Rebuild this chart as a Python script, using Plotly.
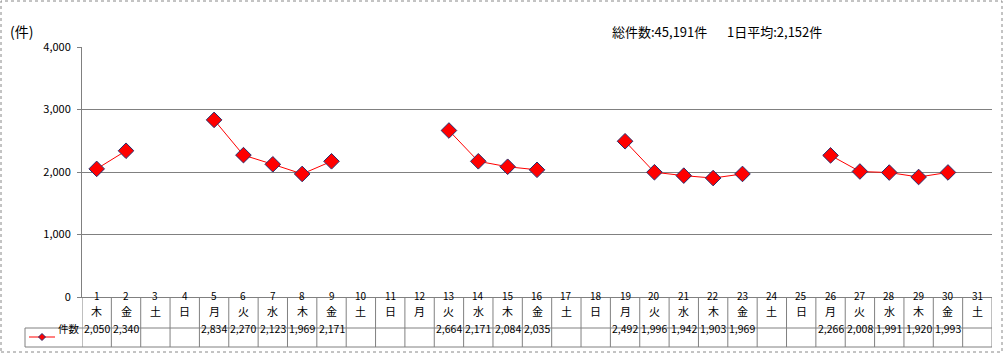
import plotly.graph_objects as go

days = list(range(1, 32))
weekdays = ["木", "金", "土", "日", "月", "火", "水", "木", "金", "土", "日", "月", "火", "水", "木", "金",
            "土", "日", "月", "火", "水", "木", "金", "土", "日", "月", "火", "水", "木", "金", "土"]
counts = [2050, 2340, None, None, 2834, 2270, 2123, 1969, 2171, None, None, None, 2664, 2171, 2084, 2035,
          None, None, 2492, 1996, 1942, 1903, 1969, None, None, 2266, 2008, 1991, 1920, 1993, None]
series_name = "件数"
unit_label = "(件)"
summary_total = "総件数:45,191件"
summary_avg = "1日平均:2,152件"

W, H = 1006, 355
L, R, T, B = 82, 992, 47, 297
pw, ph = R - L, B - T


def px(x):
    return (x - L) / pw


def py(y):
    return (B - y) / ph


FONT = "Noto Sans CJK JP"
GRID = "#808080"

fig = go.Figure()
fig.add_trace(go.Scatter(
    x=days, y=counts, mode="lines+markers", name=series_name,
    line=dict(color="#FF0000", width=1),
    marker=dict(symbol="diamond", size=12, color="#FF0000", line=dict(color="#26306E", width=1)),
    connectgaps=False, showlegend=False,
))

shapes = []
annotations = []
# table vertical lines
for i in range(0, 32):
    shapes.append(dict(type="line", xref="x", yref="paper", x0=i + 0.5, x1=i + 0.5,
                       y0=py(347), y1=py(297), line=dict(color=GRID, width=1)))
# table horizontal lines
for yy in (328, 347):
    shapes.append(dict(type="line", xref="paper", yref="paper", x0=px(25), x1=1,
                       y0=py(yy), y1=py(yy), line=dict(color=GRID, width=1)))
shapes.append(dict(type="line", xref="paper", yref="paper", x0=px(25), x1=px(25),
                   y0=py(347), y1=py(328), line=dict(color=GRID, width=1)))
# legend key
shapes.append(dict(type="line", xref="paper", yref="paper", x0=px(29), x1=px(55),
                   y0=py(337), y1=py(337), line=dict(color="#FF0000", width=1)))
cx, cy, r = 42, 337, 3.5
shapes.append(dict(type="path", xref="paper", yref="paper",
                   path=f"M {px(cx - r)} {py(cy)} L {px(cx)} {py(cy - r)} L {px(cx + r)} {py(cy)} L {px(cx)} {py(cy + r)} Z",
                   fillcolor="#FF0000", line=dict(color="#26306E", width=1)))
# outer border
shapes.append(dict(type="rect", xref="paper", yref="paper", x0=px(1), x1=px(1002),
                   y0=py(352), y1=py(1), line=dict(color="#888888", width=1, dash="dot")))

for d, wd, c in zip(days, weekdays, counts):
    annotations.append(dict(x=d, y=py(305), xref="x", yref="paper", text=str(d), showarrow=False,
                            font=dict(size=10, color="black", family=FONT)))
    annotations.append(dict(x=d, y=py(321), xref="x", yref="paper", text=wd, showarrow=False,
                            font=dict(size=11, color="black", family=FONT)))
    if c is not None:
        annotations.append(dict(x=d, y=py(337.5), xref="x", yref="paper", text=f"{c:,}", showarrow=False,
                                font=dict(size=10.5, color="black", family=FONT)))

annotations.append(dict(x=px(56), y=py(337.5), xref="paper", yref="paper", text=series_name, showarrow=False,
                        xanchor="left", font=dict(size=10.5, color="black", family=FONT)))
annotations.append(dict(x=px(8), y=py(19), xref="paper", yref="paper", text=unit_label, showarrow=False,
                        xanchor="left", font=dict(size=14, color="black", family=FONT)))
annotations.append(dict(x=px(610), y=py(20), xref="paper", yref="paper", text=summary_total, showarrow=False,
                        xanchor="left", font=dict(size=13, color="black", family=FONT)))
annotations.append(dict(x=px(725), y=py(20), xref="paper", yref="paper", text=summary_avg, showarrow=False,
                        xanchor="left", font=dict(size=13, color="black", family=FONT)))

fig.update_layout(
    width=W, height=H,
    margin=dict(l=L, r=W - R, t=T, b=H - B, pad=0),
    paper_bgcolor="white", plot_bgcolor="white",
    xaxis=dict(range=[0.5, 31.5], showticklabels=False, showgrid=False, zeroline=False,
               showline=True, linecolor=GRID, linewidth=1, ticks="", fixedrange=True),
    yaxis=dict(range=[0, 4000], tickvals=[0, 1000, 2000, 3000, 4000], tickformat=",",
               showgrid=True, gridcolor=GRID, gridwidth=1, zeroline=False,
               showline=True, linecolor=GRID, linewidth=1, ticks="outside", ticklen=4,
               tickcolor=GRID, tickfont=dict(size=11, color="black", family=FONT), ticklabelstandoff=4),
    shapes=shapes, annotations=annotations,
)

fig.write_html("out.html")
